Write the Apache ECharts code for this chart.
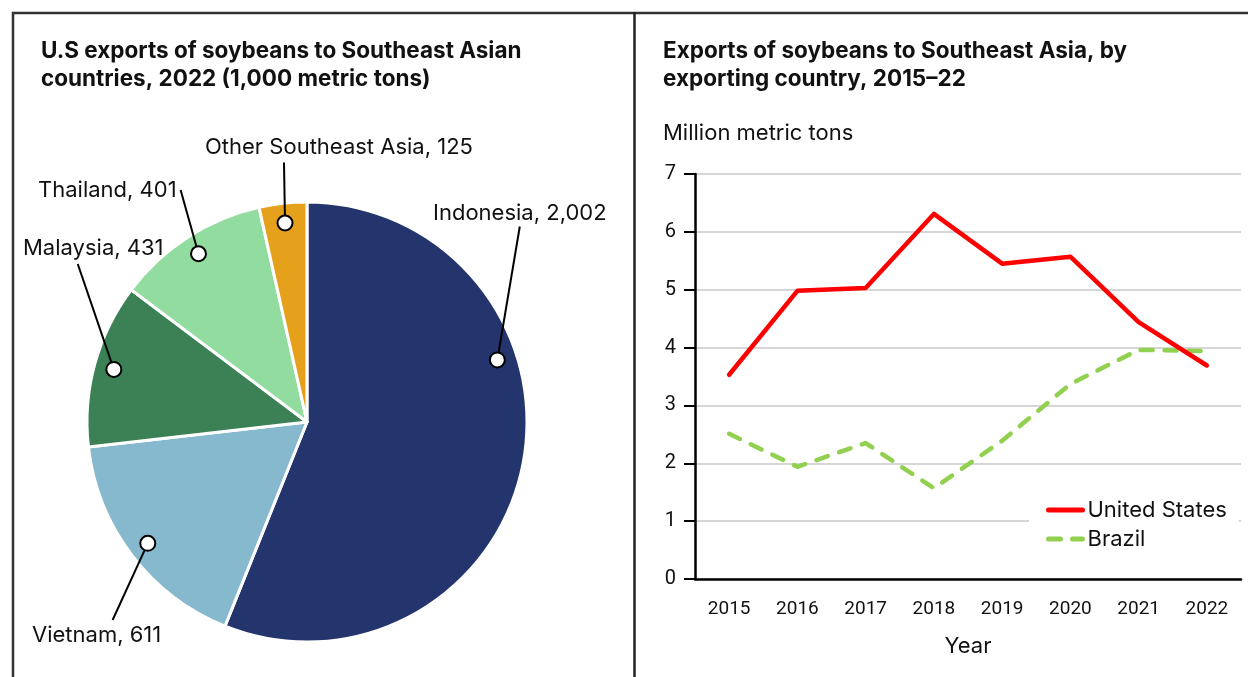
<!DOCTYPE html>
<html>
<head>
<meta charset="utf-8">
<script src="https://cdn.jsdelivr.net/npm/echarts@6/dist/echarts.min.js"></script>
<style>
html,body{margin:0;padding:0;background:#fff;}
#chart{width:1248px;height:677px;}
</style>
</head>
<body>
<div id="chart"></div>
<script>
// ---- Data ----
var pieNames = ['Indonesia', 'Vietnam', 'Malaysia', 'Thailand', 'Other Southeast Asia'];
var pieValues = [2002, 611, 431, 401, 125];
var years = ['2015', '2016', '2017', '2018', '2019', '2020', '2021', '2022'];
var usValues = [3.53, 4.98, 5.03, 6.31, 5.45, 5.57, 4.44, 3.69];
var brazilValues = [2.51, 1.94, 2.35, 1.57, 2.39, 3.37, 3.96, 3.94];
var yTicks = [0, 1, 2, 3, 4, 5, 6, 7];

// ---- Styles ----
var pieColors = ['#24346D', '#86B9CE', '#3C8155', '#92DCA0', '#E6A11C'];
var FONT = 'Inter, Roboto, sans-serif';
var TICKFONT = 'Roboto, "Liberation Sans", sans-serif';
var LABEL_SIZE = 22;
var TITLE_SIZE = 22.5;
var pieCenter = [307, 422];
var pieRadius = 220;
// label placement (style): text left x, text centre y, padding [t,r,b,l], angle shift of anchor
var labelPlace = {
  'Indonesia': {x: 433, y: 213, padding: [0, 0, 5, 0], shift: -29},
  'Vietnam': {x: 32, y: 635, padding: [8, 32, 0, 0], shift: 0},
  'Malaysia': {x: 23, y: 248, padding: [0, 0, 10, 31], shift: 0},
  'Thailand': {x: 38, y: 190, padding: [0, 4, 4, 0], shift: 0},
  'Other Southeast Asia': {x: 205, y: 147, padding: [0, 0, 9, 110], shift: 0}
};

function fmt(v) { return v.toLocaleString('en-US'); }

var total = pieValues.reduce(function (a, b) { return a + b; }, 0);
var acc = 0;
var anchorData = pieNames.map(function (n, i) {
  var mid = (acc + pieValues[i] / 2) / total * 360;
  acc += pieValues[i];
  return {name: n, value: [0.91, mid + labelPlace[n].shift], raw: pieValues[i],
          label: {padding: labelPlace[n].padding}};
});

var chart = echarts.init(document.getElementById('chart'), null, {renderer: 'canvas'});
var option = {
  animation: false,
  backgroundColor: '#fff',
  textStyle: {fontFamily: FONT},
  title: [
    {text: 'U.S exports of soybeans to Southeast Asian\ncountries, 2022 (1,000 metric tons)', left: 41, top: 37, padding: 0,
     textStyle: {fontFamily: FONT, fontSize: TITLE_SIZE, fontWeight: 'bold', color: '#111', lineHeight: 28}},
    {text: 'Exports of soybeans to Southeast Asia, by\nexporting country, 2015\u201322', left: 663, top: 37, padding: 0,
     textStyle: {fontFamily: FONT, fontSize: TITLE_SIZE, fontWeight: 'bold', color: '#111', lineHeight: 28}},
    {text: 'Million metric tons', left: 663, top: 122, padding: 0,
     textStyle: {fontFamily: FONT, fontSize: LABEL_SIZE, fontWeight: 'normal', color: '#111', lineHeight: 22}}
  ],
  graphic: [
    {type: 'line', shape: {x1: 12, y1: 13, x2: 1248, y2: 13}, style: {stroke: '#333', lineWidth: 2.5}, z: 100},
    {type: 'line', shape: {x1: 13, y1: 12, x2: 13, y2: 677}, style: {stroke: '#333', lineWidth: 2.5}, z: 100},
    {type: 'line', shape: {x1: 634.5, y1: 12, x2: 634.5, y2: 677}, style: {stroke: '#222', lineWidth: 2.5}, z: 100}
  ],
  polar: {center: pieCenter, radius: pieRadius},
  angleAxis: {type: 'value', min: 0, max: 360, startAngle: 90, clockwise: true, show: false},
  radiusAxis: {type: 'value', min: 0, max: 1, show: false},
  grid: {left: 695, right: 7, top: 174, bottom: 98},
  xAxis: {
    type: 'category', data: years, boundaryGap: true,
    name: 'Year', nameLocation: 'middle', nameGap: 56,
    nameTextStyle: {fontFamily: FONT, fontSize: LABEL_SIZE, color: '#111'},
    axisLine: {lineStyle: {color: '#000', width: 2.5}},
    axisTick: {alignWithLabel: true, length: 11, lineStyle: {color: '#000', width: 2}},
    axisLabel: {fontFamily: TICKFONT, fontSize: 19, color: '#111', margin: 21}
  },
  yAxis: {
    type: 'value', min: yTicks[0], max: yTicks[yTicks.length - 1], interval: 1,
    axisLine: {show: true, lineStyle: {color: '#000', width: 2.5}},
    axisTick: {show: true, length: 11, lineStyle: {color: '#000', width: 2}},
    axisLabel: {fontFamily: TICKFONT, fontSize: 20, color: '#111', margin: 19},
    splitLine: {show: true, lineStyle: {color: '#c8c8c8', width: 1.5}}
  },
  legend: {
    orient: 'vertical', left: 1029, top: 491,
    padding: [8, 12, 8, 17], backgroundColor: '#fff',
    itemWidth: 34, itemHeight: 14, itemGap: 7,
    itemStyle: {opacity: 0},
    lineStyle: {width: 5, cap: 'round'},
    textStyle: {fontFamily: FONT, fontSize: LABEL_SIZE, color: '#111', lineHeight: 22},
    data: ['United States', 'Brazil']
  },
  series: [
    {
      type: 'pie', center: pieCenter, radius: pieRadius, startAngle: 90, clockwise: true,
      label: {show: false}, labelLine: {show: false},
      itemStyle: {borderColor: '#fff', borderWidth: 3},
      data: pieNames.map(function (n, i) { return {name: n, value: pieValues[i], itemStyle: {color: pieColors[i]}}; }),
      z: 2
    },
    {
      type: 'scatter', coordinateSystem: 'polar', z: 5,
      symbol: 'circle', symbolSize: 15,
      itemStyle: {color: '#fff', borderColor: '#000', borderWidth: 2, opacity: 1},
      data: anchorData,
      label: {
        show: true, position: 'top', fontFamily: FONT, fontSize: LABEL_SIZE, color: '#111', lineHeight: 22,
        formatter: function (p) { return p.name + ', ' + fmt(p.data.raw); }
      },
      labelLine: {show: true, lineStyle: {color: '#000', width: 2}},
      labelLayout: function (p) {
        var lp = labelPlace[anchorData[p.dataIndex].name];
        return {x: lp.x - lp.padding[3], y: lp.y, align: 'left', verticalAlign: 'middle', draggable: false};
      },
      emphasis: {disabled: true}
    },
    {
      name: 'United States', type: 'line', data: usValues, symbol: 'none',
      lineStyle: {color: '#FF0000', width: 4.5, cap: 'round', join: 'round'},
      itemStyle: {color: '#FF0000'}, z: 4
    },
    {
      name: 'Brazil', type: 'line', data: brazilValues, symbol: 'none',
      lineStyle: {color: '#92D050', width: 4.5, type: [12, 12], cap: 'round', join: 'round'},
      itemStyle: {color: '#92D050'}, z: 3
    }
  ]
};
chart.setOption(option);
</script>
</body>
</html>
